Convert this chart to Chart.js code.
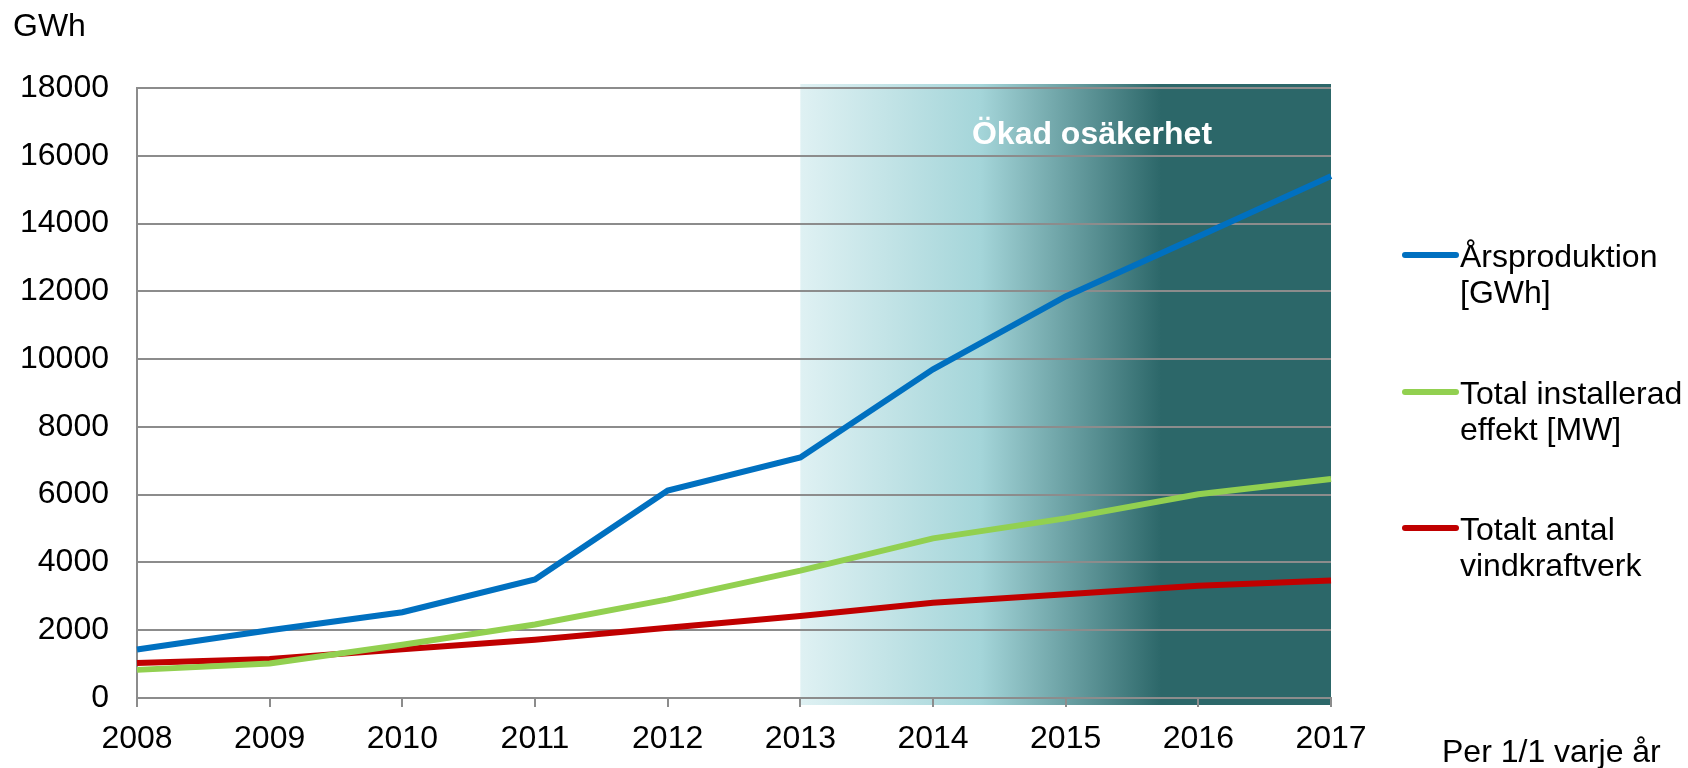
<!DOCTYPE html>
<html>
<head>
<meta charset="utf-8">
<script src="https://cdn.jsdelivr.net/npm/chart.js@4/dist/chart.umd.min.js"></script>
<style>
  html, body { margin: 0; padding: 0; background: #fff; }
  #wrap { width: 1688px; height: 768px; position: relative; }
</style>
</head>
<body>
<div id="wrap"><canvas id="graphCanvas"></canvas></div>
<script>
// data
const years = ["2008", "2009", "2010", "2011", "2012", "2013", "2014", "2015", "2016", "2017"];
const arsproduktion = [1430, 2000, 2530, 3500, 6120, 7100, 9700, 11850, 13620, 15400];
const installerad = [830, 1020, 1570, 2170, 2910, 3760, 4710, 5300, 6010, 6460];
const antalVerk = [1030, 1150, 1440, 1720, 2070, 2420, 2810, 3060, 3310, 3470];
const legendText = [
  ["Årsproduktion", "[GWh]"],
  ["Total installerad", "effekt [MW]"],
  ["Totalt antal", "vindkraftverk"],
];
const zoneFrom = "2013";
const zoneTo = "2017";
const zoneText = "Ökad osäkerhet";
const yUnit = "GWh";
const xNote = "Per 1/1 varje år";

const FONT = "'Liberation Sans', Arial, sans-serif";
const GRID = "#8c8c8c";

// skuggat område + egna texter
const decor = {
  id: "decor",
  beforeDraw(chart) {
    const c = chart.ctx;
    const xs = chart.scales.x;
    const a = chart.chartArea;
    const x0 = xs.getPixelForValue(years.indexOf(zoneFrom));
    const x1 = xs.getPixelForValue(years.indexOf(zoneTo));
    const g = c.createLinearGradient(x0, 0, x1, 0);
    g.addColorStop(0, "#dff1f3");
    g.addColorStop(0.34, "#a4d5d9");
    g.addColorStop(0.68, "#2c6769");
    g.addColorStop(1, "#2c6769");
    c.save();
    c.fillStyle = g;
    c.fillRect(x0, a.top - 4, x1 - x0, a.bottom - a.top + 11);
    c.restore();
  },
  afterDraw(chart) {
    const c = chart.ctx;
    c.save();
    c.textBaseline = "alphabetic";
    c.fillStyle = "#ffffff";
    c.font = "bold 32px " + FONT;
    c.textAlign = "center";
    c.fillText(zoneText, 1092, 144);

    c.fillStyle = "#000";
    c.font = "32px " + FONT;
    c.textAlign = "left";
    c.fillText(yUnit, 13, 36);
    c.fillText(xNote, 1442, 762);

    const rows = [255, 392, 528];
    chart.data.datasets.forEach((ds, i) => {
      const y = rows[i];
      c.strokeStyle = ds.borderColor;
      c.lineWidth = 6;
      c.lineCap = "round";
      c.beginPath();
      c.moveTo(1405, y);
      c.lineTo(1456, y);
      c.stroke();
      c.fillStyle = "#000";
      legendText[i].forEach((t, j) => c.fillText(t, 1460, y + 12 + j * 36));
    });
    c.restore();
  },
};

const ctx = document.getElementById("graphCanvas").getContext("2d");
const graphChart = new Chart(ctx, {
  type: "line",
  data: {
    labels: years,
    datasets: [
      { label: "Årsproduktion [GWh]", data: arsproduktion, borderColor: "#0070c0" },
      { label: "Total installerad effekt [MW]", data: installerad, borderColor: "#92d050" },
      { label: "Totalt antal vindkraftverk", data: antalVerk, borderColor: "#c00000" },
    ].map((d) => Object.assign(d, { borderWidth: 6, pointRadius: 0, tension: 0, fill: false })),
  },
  options: {
    responsive: true,
    maintainAspectRatio: false,
    animation: false,
    layout: { padding: { left: 0, right: 357, top: 88, bottom: 0 } },
    plugins: { legend: { display: false }, tooltip: { enabled: false }, title: { display: false } },
    scales: {
      x: {
        offset: false,
        afterFit: (s) => { s.height = 70; },
        grid: { drawOnChartArea: false, drawTicks: true, tickLength: 9, color: GRID, lineWidth: 2 },
        border: { color: GRID, width: 2 },
        ticks: { color: "#000", font: { family: FONT, size: 32 }, padding: 13, maxRotation: 0, autoSkip: false },
      },
      y: {
        min: 0,
        max: 18000,
        afterFit: (s) => { s.width = 137; },
        grid: { color: GRID, lineWidth: 2, drawTicks: false },
        border: { color: GRID, width: 2 },
        ticks: {
          stepSize: 2000,
          color: "#000",
          font: { family: FONT, size: 32 },
          padding: 28,
          callback: (v) => String(v),
        },
      },
    },
  },
  plugins: [decor],
});
</script>
</body>
</html>
